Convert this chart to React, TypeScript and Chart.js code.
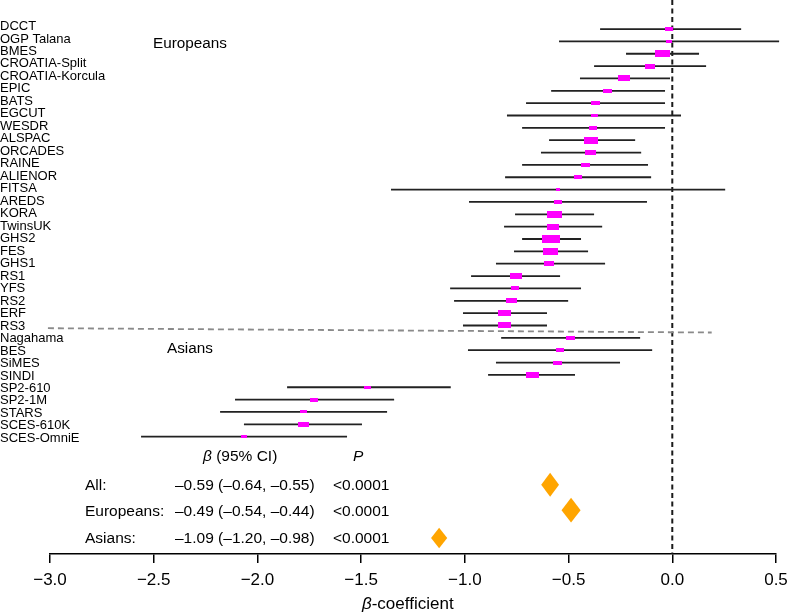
import React, { useEffect, useRef } from "react";
import { Chart, registerables } from "chart.js";

Chart.register(...registerables);

const studies = [
  "DCCT", "OGP Talana", "BMES", "CROATIA-Split", "CROATIA-Korcula", "EPIC", "BATS", "EGCUT",
  "WESDR", "ALSPAC", "ORCADES", "RAINE", "ALIENOR", "FITSA", "AREDS", "KORA", "TwinsUK",
  "GHS2", "FES", "GHS1", "RS1", "YFS", "RS2", "ERF", "RS3",
  "Nagahama", "BES", "SiMES", "SINDI", "SP2-610", "SP2-1M", "STARS", "SCES-610K", "SCES-OmniE",
];

const beta = [
  -0.015, -0.015, -0.047, -0.107, -0.232, -0.31, -0.372, -0.377, -0.382, -0.392, -0.392, -0.42,
  -0.454, -0.551, -0.551, -0.57, -0.575, -0.584, -0.589, -0.595, -0.753, -0.758, -0.777, -0.811,
  -0.811, -0.493, -0.541, -0.551, -0.676, -1.467, -1.727, -1.78, -1.78, -2.065,
];

const lower = [
  -0.348, -0.546, -0.223, -0.377, -0.445, -0.584, -0.705, -0.797, -0.724, -0.594, -0.633, -0.724,
  -0.806, -1.356, -0.98, -0.758, -0.811, -0.724, -0.763, -0.85, -0.97, -1.071, -1.052, -1.009,
  -1.009, -0.825, -0.985, -0.85, -0.888, -1.857, -2.108, -2.18, -2.065, -2.561,
];

const upper = [
  0.332, 0.515, 0.129, 0.163, -0.011, -0.035, -0.035, 0.042, -0.035, -0.179, -0.15, -0.117,
  -0.102, 0.255, -0.122, -0.377, -0.338, -0.44, -0.406, -0.324, -0.541, -0.44, -0.502, -0.604,
  -0.604, -0.155, -0.097, -0.252, -0.469, -1.068, -1.341, -1.375, -1.496, -1.568,
];

// relative study weights (%)
const weights = [
  1.7, 0.95, 5.9, 2.6, 3.8, 2.1, 2.1, 1.3, 1.7, 5.2, 3.2, 2.1, 1.7, 0.4, 1.7, 5.9, 3.8, 8.6, 5.9,
  2.6, 3.8, 1.7, 3.2, 4.5, 4.5, 2.1, 1.7, 2.1, 4.5, 1.3, 1.7, 1.3, 3.2, 0.95,
];

const summaryLabels = ["All:", "Europeans:", "Asians:"];
const summaryCI = ["–0.59 (–0.64, –0.55)", "–0.49 (–0.54, –0.44)", "–1.09 (–1.20, –0.98)"];
const summaryP = ["<0.0001", "<0.0001", "<0.0001"];
const diamondEst = [-0.589, -0.488, -1.124];
const diamondLo = [-0.632, -0.534, -1.163];
const diamondHi = [-0.546, -0.442, -1.085];

const xTicks = [-3, -2.5, -2, -1.5, -1, -0.5, 0, 0.5];
const xTickLabels = ["−3.0", "−2.5", "−2.0", "−1.5", "−1.0", "−0.5", "0.0", "0.5"];

const FONT = '"Liberation Sans", Arial, Helvetica, sans-serif';

function makeBox(w: number): HTMLCanvasElement {
  const bw = Math.max(4, Math.round(Math.sqrt(w) * 6.15));
  const bh = Math.max(3, Math.round(bw * 0.47));
  const c = document.createElement("canvas");
  c.width = bw;
  c.height = bh;
  const g = c.getContext("2d")!;
  g.fillStyle = "#FF00FF";
  g.fillRect(0, 0, bw, bh);
  return c;
}

const overlayPlugin = {
  id: "overlay",
  afterDatasetsDraw(chart: any) {
    const { ctx, scales } = chart;
    const x = scales.x;
    const y = scales.y;
    ctx.save();
    // diamonds
    const rows = [36.9, 38.95, 41.2];
    const halfH = [12, 12.3, 10.3];
    ctx.fillStyle = "#FFA500";
    diamondEst.forEach((e, k) => {
      const cy = y.getPixelForValue(rows[k]);
      ctx.beginPath();
      ctx.moveTo(x.getPixelForValue(diamondLo[k]), cy);
      ctx.lineTo(x.getPixelForValue(e), cy - halfH[k]);
      ctx.lineTo(x.getPixelForValue(diamondHi[k]), cy);
      ctx.lineTo(x.getPixelForValue(e), cy + halfH[k]);
      ctx.closePath();
      ctx.fill();
    });

    ctx.fillStyle = "#000";
    ctx.textBaseline = "alphabetic";
    ctx.textAlign = "left";
    // study labels
    ctx.font = `13px ${FONT}`;
    studies.forEach((s, i) => {
      ctx.fillText(s, 0, y.getPixelForValue(i * 1.0105) + 1);
    });
    // group labels
    ctx.font = `15.3px ${FONT}`;
    ctx.fillText("Europeans", 153, 48);
    ctx.fillText("Asians", 167, 353);

    // header
    ctx.font = `italic 15.5px ${FONT}`;
    ctx.fillText("β", 203, 461);
    const bw = ctx.measureText("β").width;
    ctx.font = `15.5px ${FONT}`;
    ctx.fillText(" (95% CI)", 203 + bw, 461);
    ctx.font = `italic 15.5px ${FONT}`;
    ctx.fillText("P", 353, 461);

    // summary rows
    ctx.font = `15.5px ${FONT}`;
    summaryLabels.forEach((lab, k) => {
      const by = y.getPixelForValue(rows[k]) + 5.5;
      ctx.fillText(lab, 85, by);
      ctx.fillText(summaryCI[k], 175, by);
      ctx.fillText(summaryP[k], 333, by);
    });

    // axis title
    ctx.font = `italic 17px ${FONT}`;
    ctx.fillText("β", 362, 609);
    const tw = ctx.measureText("β").width;
    ctx.font = `17px ${FONT}`;
    ctx.fillText("-coefficient", 362 + tw, 609);
    ctx.restore();
  },
};

export default function App() {
  const ref = useRef<HTMLCanvasElement>(null);
  useEffect(() => {
    const boxes = weights.map(makeBox);
    const ciData: any[] = [];
    studies.forEach((_, i) => {
      ciData.push({ x: lower[i], y: i }, { x: upper[i], y: i }, { x: null, y: null });
    });
    const chart = new Chart(ref.current!, {
      type: "scatter",
      data: {
        datasets: [
          {
            type: "scatter",
            label: "estimate",
            data: beta.map((b, i) => ({ x: b, y: i })),
            pointStyle: boxes as any,
            pointRadius: 3,
            clip: false as any,
          },
          {
            type: "line",
            label: "ci",
            data: ciData,
            borderColor: "#222222",
            borderWidth: 1.8,
            pointRadius: 0,
            spanGaps: false,
            fill: false,
            clip: false as any,
          },
          {
            type: "line",
            label: "separator",
            data: [
              { x: -3.01, y: 24.22 },
              { x: 0.19, y: 24.57 },
            ],
            borderColor: "#8a8a8a",
            borderWidth: 1.8,
            borderDash: [6, 4],
            pointRadius: 0,
            fill: false,
            clip: false as any,
          },
          {
            type: "line",
            label: "zero",
            data: [
              { x: 0, y: -2.35 },
              { x: 0, y: 42.5 },
            ],
            borderColor: "#1a1a1a",
            borderWidth: 2,
            borderDash: [5, 3.5],
            pointRadius: 0,
            fill: false,
            clip: false as any,
          },
        ] as any,
      },
      options: {
        animation: false,
        responsive: false,
        devicePixelRatio: 1,
        events: [],
        layout: { autoPadding: false, padding: { left: 50, right: 12, top: 0, bottom: 0 } },
        plugins: {
          legend: { display: false },
          tooltip: { enabled: false },
          title: { display: false },
        },
        scales: {
          x: {
            type: "linear",
            position: "bottom",
            min: -3,
            max: 0.5,
            afterBuildTicks: (scale: any) => {
              scale.ticks = xTicks.map((v) => ({ value: v }));
            },
            afterFit: (scale: any) => {
              scale.height = 62;
              scale.paddingLeft = 0;
              scale.paddingRight = 0;
            },
            ticks: {
              padding: 7,
              color: "#000",
              font: { size: 17, family: FONT },
              maxRotation: 0,
              autoSkip: false,
              callback: (v: any) => {
                const idx = xTicks.indexOf(Number(v));
                return idx >= 0 ? xTickLabels[idx] : "";
              },
            },
            grid: {
              display: true,
              drawOnChartArea: false,
              drawTicks: true,
              tickLength: 9,
              color: "#000",
              lineWidth: 1.5,
            },
            border: { display: true, color: "#000", width: 1.5 },
            title: { display: false },
          },
          y: {
            type: "linear",
            display: false,
            reverse: true,
            min: -2.35,
            max: 42.5,
          },
        },
      } as any,
      plugins: [overlayPlugin],
    });
    return () => chart.destroy();
  }, []);
  return (
    <div style={{ position: "absolute", left: 0, top: 0, width: 788, height: 616, background: "#fff" }}>
      <canvas ref={ref} width={788} height={616} style={{ display: "block" }} />
    </div>
  );
}
